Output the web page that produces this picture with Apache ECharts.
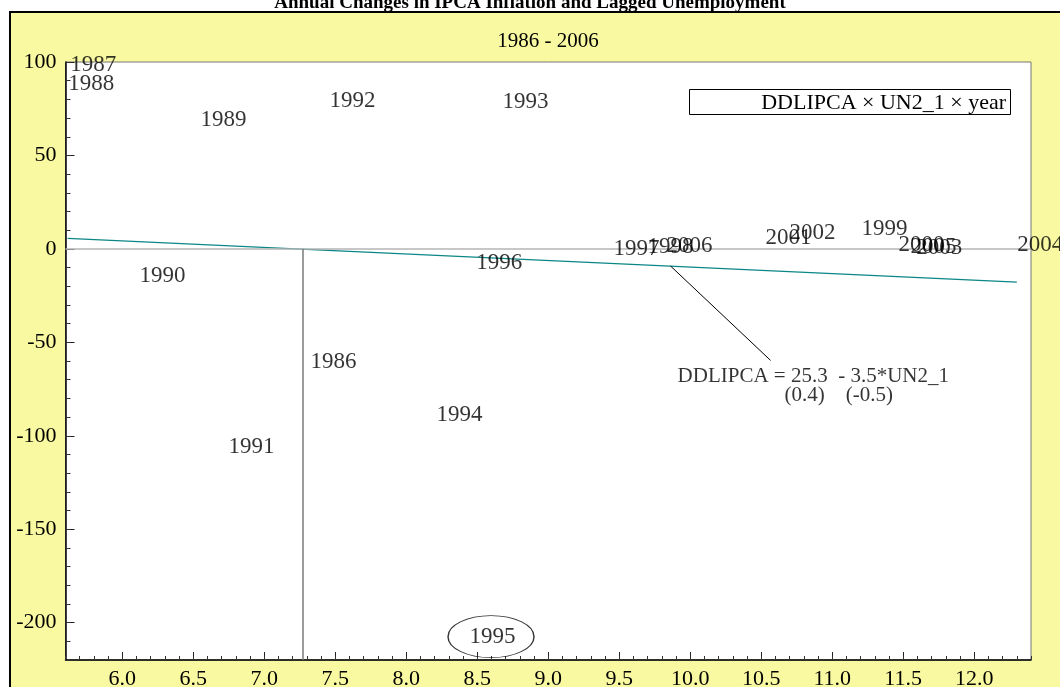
<!DOCTYPE html>
<html>
<head>
<meta charset="utf-8">
<script src="https://cdn.jsdelivr.net/npm/echarts@6/dist/echarts.min.js"></script>
<style>
  html, body { margin: 0; padding: 0; background: #fff; }
  #chart { width: 1060px; height: 687px; }
</style>
</head>
<body>
<div id="chart"></div>
<script>
// Observation years (used as point labels)
const years = [1986, 1987, 1988, 1989, 1990, 1991, 1992, 1993, 1994, 1995, 1996,
               1997, 1998, 1999, 2000, 2001, 2002, 2003, 2004, 2005, 2006];
// Lagged unemployment rate, UN2_1
const un2Lag = [7.322, 5.630, 5.615, 6.547, 6.118, 6.744, 7.456, 8.674, 8.209, 8.442, 8.490,
                9.456, 9.695, 11.202, 11.463, 10.526, 10.695, 11.589, 12.300, 11.547, 9.829];
// Annual change in IPCA inflation, DDLIPCA
const ddlipca = [-60.4, 98.4, 88.2, 69.0, -14.4, -105.9, 79.1, 78.6, -88.8, -207.5, -7.5,
                 -0.3, 1.2, 10.7, 2.1, 5.6, 8.3, 0.5, 2.1, 1.0, 1.6];

// Fitted regression DDLIPCA = 25.3 - 3.5*UN2_1
const intercept = 25.3;
const slope = -3.5;
const naturalRate = 7.27;        // vertical reference drop from the zero line
const circledYear = 1995;        // highlighted observation

// Equation callout: leader starts on the fitted line, ends at this point
const calloutFromX = 9.862;
const calloutTo = [10.566, -59.7];

// Axis tick values
const xTickValues = [6.0, 6.5, 7.0, 7.5, 8.0, 8.5, 9.0, 9.5, 10.0, 10.5, 11.0, 11.5, 12.0];
const yTickValues = [-200, -150, -100, -50, 0, 50, 100];
const xRange = [5.6, 12.4];
const yRange = [-220, 100];

const SERIF = '"Liberation Serif", "Times New Roman", serif';
const points = years.map((yr, i) => [un2Lag[i], ddlipca[i], yr]);
const xLo = Math.min(...un2Lag), xHi = Math.max(...un2Lag);
const fit = x => intercept + slope * x;
const ci = years.indexOf(circledYear);

const chart = echarts.init(document.getElementById('chart'), null, { renderer: 'canvas' });

const baseX = {
  type: 'value', min: xRange[0], max: xRange[1], position: 'bottom',
  splitLine: { show: false }
};
const baseY = {
  type: 'value', min: yRange[0], max: yRange[1], position: 'left',
  splitLine: { show: false }
};

chart.setOption({
  animation: false,
  backgroundColor: '#fff',
  graphic: [
    {
      type: 'text', z: -20, x: 530, y: 3,
      style: {
        text: 'Annual Changes in IPCA Inflation and Lagged Unemployment',
        font: 'bold 19px ' + SERIF, fill: '#000',
        textAlign: 'center', align: 'center', textVerticalAlign: 'middle', verticalAlign: 'middle'
      }
    },
    {
      type: 'rect', z: -10,
      shape: { x: 10, y: 12, width: 1070, height: 700 },
      style: { fill: '#F9F9A2', stroke: '#000', lineWidth: 2 }
    },
    {
      type: 'text', z: 5, x: 548, y: 41,
      style: {
        text: '1986 - 2006', font: '21px ' + SERIF, fill: '#000',
        textAlign: 'center', align: 'center', textVerticalAlign: 'middle', verticalAlign: 'middle'
      }
    },
    {
      type: 'rect', z: 50,
      shape: { x: 689.5, y: 89.5, width: 321, height: 25 },
      style: { fill: '#fff', stroke: '#000', lineWidth: 1 }
    },
    {
      type: 'text', z: 51, x: 1006, y: 103,
      style: {
        text: 'DDLIPCA \u00d7 UN2_1 \u00d7 year', font: '22px ' + SERIF, fill: '#000',
        textAlign: 'right', align: 'right', textVerticalAlign: 'middle', verticalAlign: 'middle'
      }
    }
  ],
  grid: {
    left: 65.5, right: 29, top: 62, bottom: 27,
    outerBoundsMode: 'none', containLabel: false,
    show: true, backgroundColor: '#fff', borderColor: '#777', borderWidth: 1
  },
  xAxis: [
    Object.assign({}, baseX, {
      axisLine: { show: true, onZero: false, lineStyle: { color: '#000', width: 1.5 } },
      axisTick: { show: true, inside: true, length: 8, customValues: xTickValues,
                  lineStyle: { color: '#222', width: 1 } },
      axisLabel: { show: true, customValues: xTickValues, margin: 8,
                   formatter: v => Number(v).toFixed(1),
                   fontFamily: SERIF, fontSize: 22, color: '#000' }
    }),
    Object.assign({}, baseX, {
      interval: 0.1,
      axisLine: { show: false, onZero: false },
      axisTick: { show: true, inside: true, length: 4, lineStyle: { color: '#333', width: 1 } },
      axisLabel: { show: false }
    })
  ],
  yAxis: [
    Object.assign({}, baseY, {
      axisLine: { show: true, onZero: false, lineStyle: { color: '#000', width: 1.5 } },
      axisTick: { show: true, inside: true, length: 9, customValues: yTickValues,
                  lineStyle: { color: '#222', width: 1 } },
      axisLabel: { show: true, customValues: yTickValues, margin: 9,
                   fontFamily: SERIF, fontSize: 22, color: '#000' }
    }),
    Object.assign({}, baseY, {
      interval: 10,
      axisLine: { show: false, onZero: false },
      axisTick: { show: true, inside: true, length: 5, lineStyle: { color: '#333', width: 1 } },
      axisLabel: { show: false }
    })
  ],
  series: [
    {
      // fitted line plus zero line and natural-rate drop
      type: 'line', xAxisIndex: 0, yAxisIndex: 0, z: 2,
      data: [[xLo, fit(xLo)], [xHi, fit(xHi)]],
      showSymbol: false, symbol: 'none', silent: true,
      lineStyle: { color: '#0b8686', width: 1.3 },
      markLine: {
        silent: true, symbol: ['none', 'none'], label: { show: false }, animation: false,
        data: [
          { yAxis: 0, lineStyle: { color: '#b4b4b4', width: 1.6, type: 'solid' } },
          [
            { coord: [naturalRate, 0], lineStyle: { color: '#7a7a7a', width: 1.5, type: 'solid' } },
            { coord: [naturalRate, yRange[0]] }
          ]
        ]
      }
    },
    {
      // equation leader line
      type: 'line', xAxisIndex: 0, yAxisIndex: 0, z: 3,
      data: [[calloutFromX, fit(calloutFromX)], calloutTo],
      showSymbol: false, symbol: 'none', silent: true,
      lineStyle: { color: '#000', width: 1 }
    },
    {
      // equation text
      type: 'scatter', xAxisIndex: 0, yAxisIndex: 0, z: 4, silent: true,
      symbolSize: 0, itemStyle: { color: 'rgba(0,0,0,0)' },
      data: [
        { value: calloutTo, label: { show: true, position: [-93, 16],
          formatter: 'DDLIPCA = ' + intercept.toFixed(1) + '  - ' + Math.abs(slope).toFixed(1) + '*UN2_1' } },
        { value: calloutTo, label: { show: true, position: [14, 35], formatter: '(0.4)    (-0.5)' } }
      ],
      label: { align: 'left', verticalAlign: 'middle', fontFamily: SERIF, fontSize: 21, color: '#000' }
    },
    {
      name: 'DDLIPCA \u00d7 UN2_1 \u00d7 year',
      type: 'scatter', xAxisIndex: 0, yAxisIndex: 0, z: 6, silent: true,
      symbolSize: 1, itemStyle: { color: 'rgba(0,0,0,0)' },
      data: points,
      label: {
        show: true, position: 'right', distance: 0,
        formatter: p => String(p.value[2]),
        fontFamily: SERIF, fontSize: 23, color: '#000'
      },
      labelLayout: { hideOverlap: false }
    },
    {
      // ring around the highlighted year
      type: 'scatter', xAxisIndex: 0, yAxisIndex: 0, z: 7, silent: true,
      symbol: 'path://M0,50 A50,50 0 1,1 100,50 A50,50 0 1,1 0,50 Z',
      symbolSize: [86, 42], symbolOffset: [22, 0],
      itemStyle: { color: 'rgba(0,0,0,0)', borderColor: '#000', borderWidth: 1 },
      data: [[un2Lag[ci], ddlipca[ci]]]
    }
  ]
});
</script>
</body>
</html>
